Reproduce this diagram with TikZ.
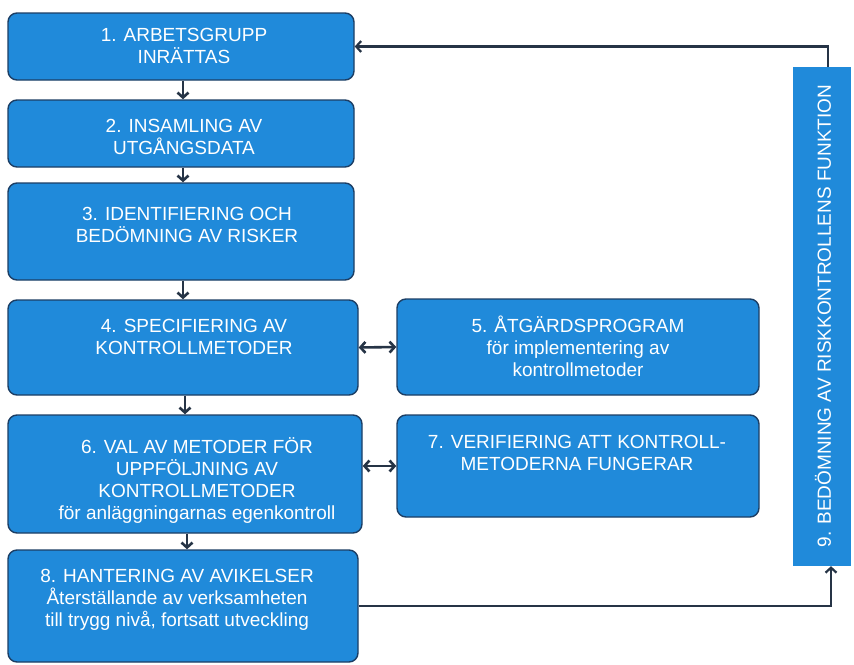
\documentclass[tikz,border=0pt]{standalone}
\usepackage{fontspec}
\setmainfont{Liberation Sans}
\usetikzlibrary{arrows.meta,calc}
\definecolor{boxblue}{RGB}{32,138,218}
\definecolor{boxline}{RGB}{28,62,100}
\definecolor{arrowc}{RGB}{38,52,70}
\begin{document}
\begin{tikzpicture}[x=1pt,y=-1pt,
 box/.style={draw=boxline, line width=1.4pt, fill=boxblue, rounded corners=9pt, inner sep=0pt},
 sidebox/.style={fill=boxblue, inner sep=0pt},
 lbl/.style={text=white, align=center, font=\fontsize{19}{22}\selectfont, inner sep=0pt},
 tip/.tip={Straight Barb[length=5pt,width=11pt]},
 conn/.style={draw=arrowc, line width=2.6pt, -tip},
 dconn/.style={draw=arrowc, line width=2.6pt, tip-tip},
 loopl/.style={draw=arrowc, line width=2.2pt, -tip}]
\useasboundingbox (0,0) rectangle (854,664);
\fill[white] (0,0) rectangle (854,664);
% boxes
\node[box, minimum width=346pt, minimum height=67pt] (b1) at (181,46.5) {};
\node[box, minimum width=346pt, minimum height=67pt] (b2) at (181,133.5) {};
\node[box, minimum width=346pt, minimum height=97pt] (b3) at (181,231.5) {};
\node[box, minimum width=350pt, minimum height=95pt] (b4) at (183,347.5) {};
\node[box, minimum width=362pt, minimum height=96pt] (b5) at (578,347) {};
\node[box, minimum width=354pt, minimum height=118pt] (b6) at (185,474) {};
\node[box, minimum width=362pt, minimum height=102pt] (b7) at (578,466) {};
\node[box, minimum width=350pt, minimum height=112pt] (b8) at (183,606) {};
\node[sidebox, minimum width=58pt, minimum height=499pt] (b9) at (822,316.5) {};
% texts
\node[lbl] (t1) at (184,46) {1. ARBETSGRUPP\\INRÄTTAS};
\node[lbl] (t2) at (184,137) {2. INSAMLING AV\\UTGÅNGSDATA};
\node[lbl] (t3) at (187,225) {3. IDENTIFIERING OCH\\BEDÖMNING AV RISKER};
\node[lbl] (t4) at (194,337) {4. SPECIFIERING AV\\KONTROLLMETODER};
\node[lbl] (t5) at (578,346) {5. ÅTGÄRDSPROGRAM\\för implementering av\\kontrollmetoder};
\node[lbl] (t6) at (197,481) {6. VAL AV METODER FÖR\\UPPFÖLJNING AV\\KONTROLLMETODER\\för anläggningarnas egenkontroll};
\node[lbl] (t7) at (577,453) {7. VERIFIERING ATT KONTROLL-\\METODERNA FUNGERAR};
\node[lbl] (t8) at (177,600) {8. HANTERING AV AVIKELSER\\Återställande av verksamheten\\till trygg nivå, fortsatt utveckling};
\node[lbl, rotate=90] (t9) at (823,316) {9. BEDÖMNING AV RISKKONTROLLENS FUNKTION};
% connectors
\draw[conn] (b1.south) ++(2pt,0) coordinate (s1) -- (s1 |- b2.north);
\draw[conn] (b2.south) ++(2pt,0) coordinate (s2) -- (s2 |- b3.north);
\draw[conn] (b3.south) ++(2pt,0) coordinate (s3) -- (s3 |- b4.north);
\draw[conn] (b4.south) ++(2pt,0) coordinate (s4) -- (s4 |- b6.north);
\draw[conn] (b6.south) ++(2pt,0) coordinate (s6) -- (s6 |- b8.north);
\draw[dconn] (b4.east) -- (b5.west);
\draw[dconn] (b6.east |- b7.west) -- (b7.west);
\draw[loopl] ([xshift=6pt]b9.north) |- (b1.east);
\draw[loopl] (b8.east) -| ([xshift=9pt]b9.south);
\end{tikzpicture}
\end{document}
